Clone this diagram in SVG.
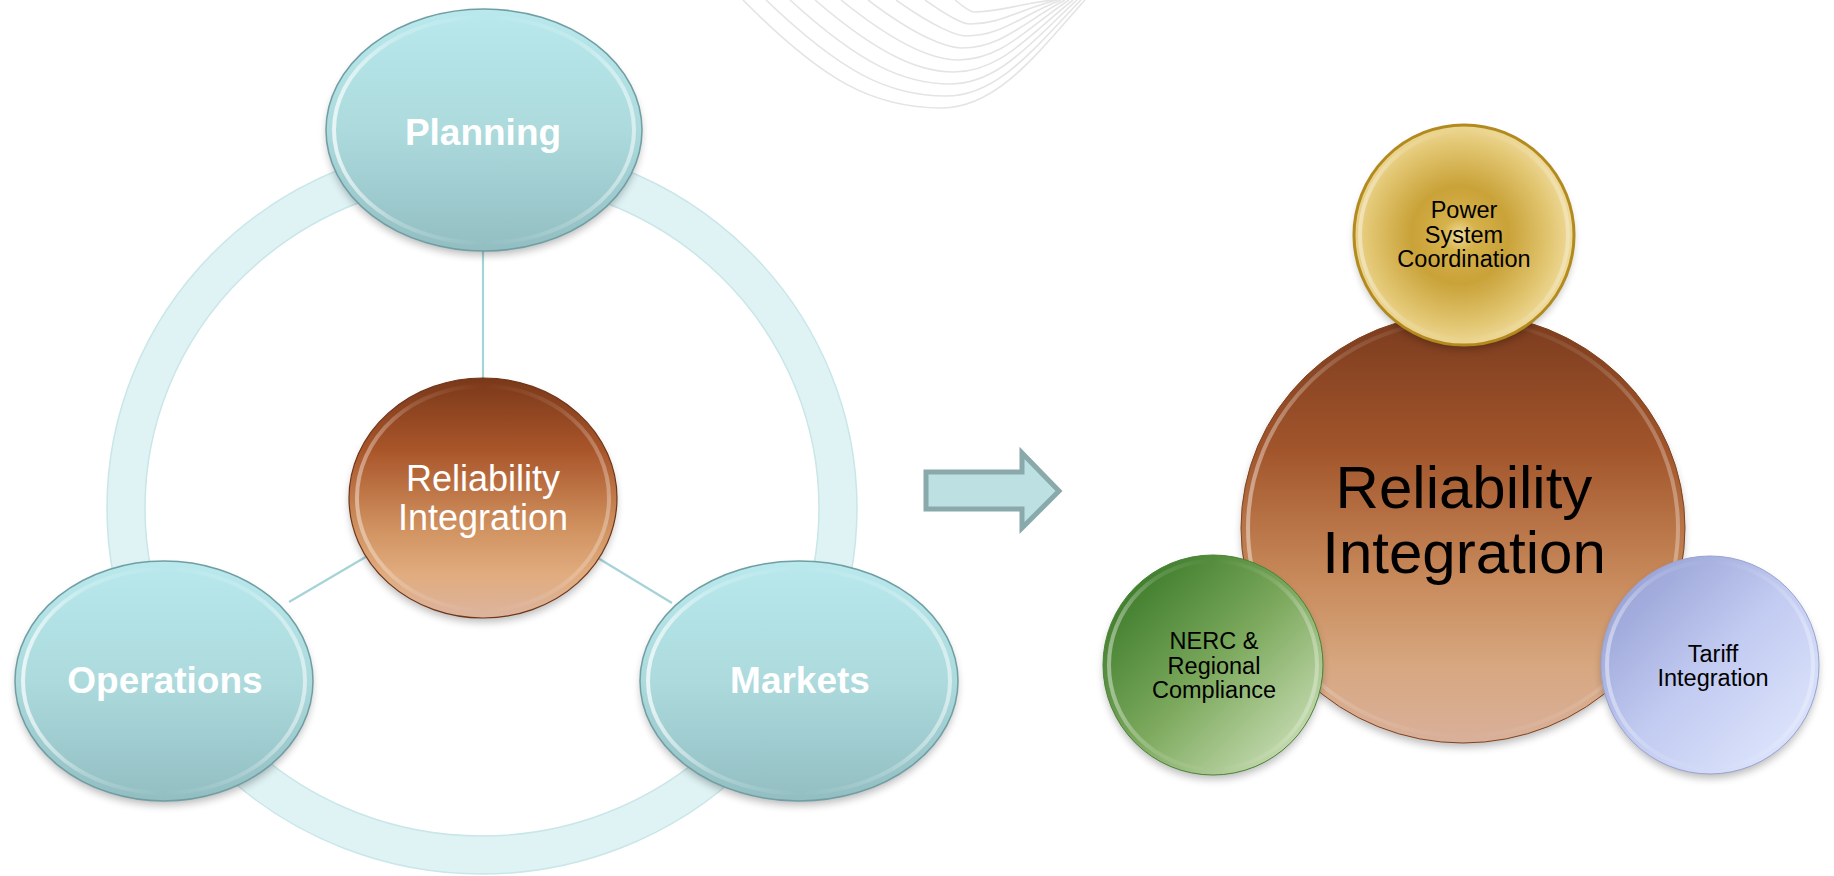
<svg xmlns="http://www.w3.org/2000/svg" width="1834" height="876" viewBox="0 0 1834 876">
<style>
.sw{fill:none;stroke:#e4e4e4;stroke-width:1.6}
.lblw{font-family:"Liberation Sans",Arial,sans-serif;fill:#ffffff;text-anchor:middle}
.lblb{font-family:"Liberation Sans",Arial,sans-serif;fill:#000000;text-anchor:middle}
.bold{font-weight:bold;font-size:37px}
.conn{stroke:#a5d3d8;stroke-width:2.2;fill:none}
.tealfill{fill:url(#gTeal);stroke:#6f9ea3;stroke-width:1.5}
.rim{fill:none;stroke:url(#gRim);stroke-width:4;opacity:0.75}
.rimsoft{fill:none;stroke:url(#gRim);stroke-width:4;opacity:0.45}
.shadow{fill:#000;opacity:0.28;filter:url(#fBlur)}
</style>
<defs>
<filter id="fBlur" x="-20%" y="-20%" width="140%" height="140%"><feGaussianBlur stdDeviation="4"/></filter>
<linearGradient id="gTeal" x1="0" y1="0" x2="0" y2="1">
<stop offset="0" stop-color="#b9e9ed"/><stop offset="0.5" stop-color="#acdadd"/><stop offset="1" stop-color="#92bec2"/>
</linearGradient>
<linearGradient id="gRim" x1="0" y1="0" x2="1" y2="0">
<stop offset="0" stop-color="#ffffff" stop-opacity="0.95"/><stop offset="0.22" stop-color="#ffffff" stop-opacity="0.3"/>
<stop offset="0.5" stop-color="#ffffff" stop-opacity="0"/><stop offset="0.8" stop-color="#ffffff" stop-opacity="0.25"/>
<stop offset="1" stop-color="#ffffff" stop-opacity="0.7"/>
</linearGradient>
<linearGradient id="gBrownS" x1="0" y1="0" x2="0" y2="1">
<stop offset="0" stop-color="#7a3819"/><stop offset="0.3" stop-color="#a9552a"/><stop offset="0.62" stop-color="#d0915f"/>
<stop offset="0.82" stop-color="#e1ac7f"/><stop offset="1" stop-color="#dcb49e"/>
</linearGradient>
<linearGradient id="gBrownB" x1="0" y1="0" x2="0" y2="1">
<stop offset="0" stop-color="#7a3b1e"/><stop offset="0.32" stop-color="#a2552b"/><stop offset="0.62" stop-color="#c88a5b"/>
<stop offset="0.82" stop-color="#d7a780"/><stop offset="1" stop-color="#d9b09a"/>
</linearGradient>
<radialGradient id="gGold" cx="0.48" cy="0.5" r="0.55">
<stop offset="0" stop-color="#f0dc9c"/><stop offset="0.14" stop-color="#d6b24b"/><stop offset="0.4" stop-color="#c9a238"/>
<stop offset="0.75" stop-color="#e2c672"/><stop offset="1" stop-color="#f3e1a9"/>
</radialGradient>
<linearGradient id="gGreen" x1="0.1" y1="0.1" x2="0.9" y2="0.9">
<stop offset="0" stop-color="#3a7a28"/><stop offset="0.5" stop-color="#7ba85c"/><stop offset="1" stop-color="#c8ddb4"/>
</linearGradient>
<linearGradient id="gBlue" x1="0.1" y1="0.1" x2="0.9" y2="0.9">
<stop offset="0" stop-color="#97a1d5"/><stop offset="0.5" stop-color="#c2cbf1"/><stop offset="1" stop-color="#dde5fc"/>
</linearGradient>
</defs>

<rect width="1834" height="876" fill="#ffffff"/>

<g id="background-swirl">
<path class="sw" d="M743,0 C823,81 873,108 942,108 C998,108 1040,50 1085,0"/>
<path class="sw" d="M766,0 C842,73 889,96 946,96 C999,96 1037,45 1081,0"/>
<path class="sw" d="M790,0 C861,65 905,84 950,84 C1000,84 1034,39 1077,0"/>
<path class="sw" d="M815,0 C880,56 920,72 954,72 C1001,72 1031,33 1073,0"/>
<path class="sw" d="M841,0 C899,47 935,60 958,60 C1002,60 1028,27 1069,0"/>
<path class="sw" d="M868,0 C918,38 948,48 962,48 C1002,48 1025,21 1065,0"/>
<path class="sw" d="M896,0 C937,29 958,36 966,36 C1002,36 1022,15 1061,0"/>
<path class="sw" d="M925,0 C952,19 965,24 970,24 C1001,24 1018,10 1057,0"/>
<path class="sw" d="M955,0 C966,9 972,12 974,12 C999,12 1014,5 1053,0"/>
</g>

<g id="ring">
<ellipse cx="482" cy="508" rx="356" ry="347" fill="none" stroke="#dff3f5" stroke-width="38"/>
<ellipse cx="482" cy="508" rx="375" ry="366" fill="none" stroke="#c9e6e9" stroke-width="1.5"/>
<ellipse cx="482" cy="508" rx="337" ry="328" fill="none" stroke="#c9e6e9" stroke-width="1.5"/>
</g>

<g id="connectors">
<line class="conn" x1="483" y1="251" x2="483" y2="379"/>
<line class="conn" x1="369" y1="555" x2="289" y2="602"/>
<line class="conn" x1="593" y1="555" x2="672" y2="603"/>
</g>

<g id="node-planning">
<ellipse class="shadow" cx="484" cy="135" rx="157" ry="120"/>
<ellipse class="tealfill" cx="484" cy="130" rx="158" ry="121"/>
<ellipse class="rim" cx="484" cy="130" rx="150" ry="113"/>
<text class="lblw bold" x="483" y="145">Planning</text>
</g>

<g id="node-operations">
<ellipse class="shadow" cx="164" cy="686" rx="148" ry="119"/>
<ellipse class="tealfill" cx="164" cy="681" rx="149" ry="120"/>
<ellipse class="rim" cx="164" cy="681" rx="141" ry="112"/>
<text class="lblw bold" x="165" y="693">Operations</text>
</g>

<g id="node-markets">
<ellipse class="shadow" cx="799" cy="686" rx="158" ry="119"/>
<ellipse class="tealfill" cx="799" cy="681" rx="159" ry="120"/>
<ellipse class="rim" cx="799" cy="681" rx="151" ry="112"/>
<text class="lblw bold" x="800" y="693">Markets</text>
</g>

<g id="node-reliability-left">
<ellipse class="shadow" cx="483" cy="503" rx="133" ry="119"/>
<ellipse cx="483" cy="498" rx="134" ry="120" fill="url(#gBrownS)" stroke="#6e3518" stroke-width="1.2"/>
<ellipse class="rimsoft" cx="483" cy="498" rx="126" ry="112"/>
<text class="lblw" font-size="36" x="483" y="491">Reliability</text>
<text class="lblw" font-size="36" x="483" y="530">Integration</text>
</g>

<g id="arrow">
<polygon points="926,472 1022,472 1022,453 1059,491 1022,528 1022,509 926,509" fill="#bde0e3" stroke="#8aa9aa" stroke-width="5" stroke-linejoin="miter"/>
</g>

<g id="node-reliability-right">
<ellipse class="shadow" cx="1463" cy="533" rx="221" ry="214"/>
<ellipse cx="1463" cy="528" rx="222" ry="215" fill="url(#gBrownB)" stroke="#80431f" stroke-width="1"/>
<ellipse class="rimsoft" cx="1463" cy="528" rx="215" ry="208"/>
<text class="lblb" font-size="60" x="1464" y="508">Reliability</text>
<text class="lblb" font-size="60" x="1464" y="573">Integration</text>
</g>

<g id="node-power-system">
<circle class="shadow" cx="1464" cy="240" r="109"/>
<circle cx="1464" cy="235" r="110" fill="url(#gGold)" stroke="#b38a1e" stroke-width="3"/>
<circle class="rimsoft" cx="1464" cy="235" r="104"/>
<text class="lblb" font-size="23.5" x="1464" y="218">Power</text>
<text class="lblb" font-size="23.5" x="1464" y="243">System</text>
<text class="lblb" font-size="23.5" x="1464" y="267">Coordination</text>
</g>

<g id="node-nerc">
<circle class="shadow" cx="1213" cy="670" r="109"/>
<circle cx="1213" cy="665" r="110" fill="url(#gGreen)" stroke="#4a8436" stroke-width="1"/>
<circle class="rimsoft" cx="1213" cy="665" r="104"/>
<text class="lblb" font-size="23.5" x="1214" y="649">NERC &amp;</text>
<text class="lblb" font-size="23.5" x="1214" y="674">Regional</text>
<text class="lblb" font-size="23.5" x="1214" y="698">Compliance</text>
</g>

<g id="node-tariff">
<circle class="shadow" cx="1710" cy="670" r="108"/>
<circle cx="1710" cy="665" r="109" fill="url(#gBlue)" stroke="#9aa3d2" stroke-width="1"/>
<circle class="rimsoft" cx="1710" cy="665" r="103"/>
<text class="lblb" font-size="23.5" x="1713" y="662">Tariff</text>
<text class="lblb" font-size="23.5" x="1713" y="686">Integration</text>
</g>
</svg>
